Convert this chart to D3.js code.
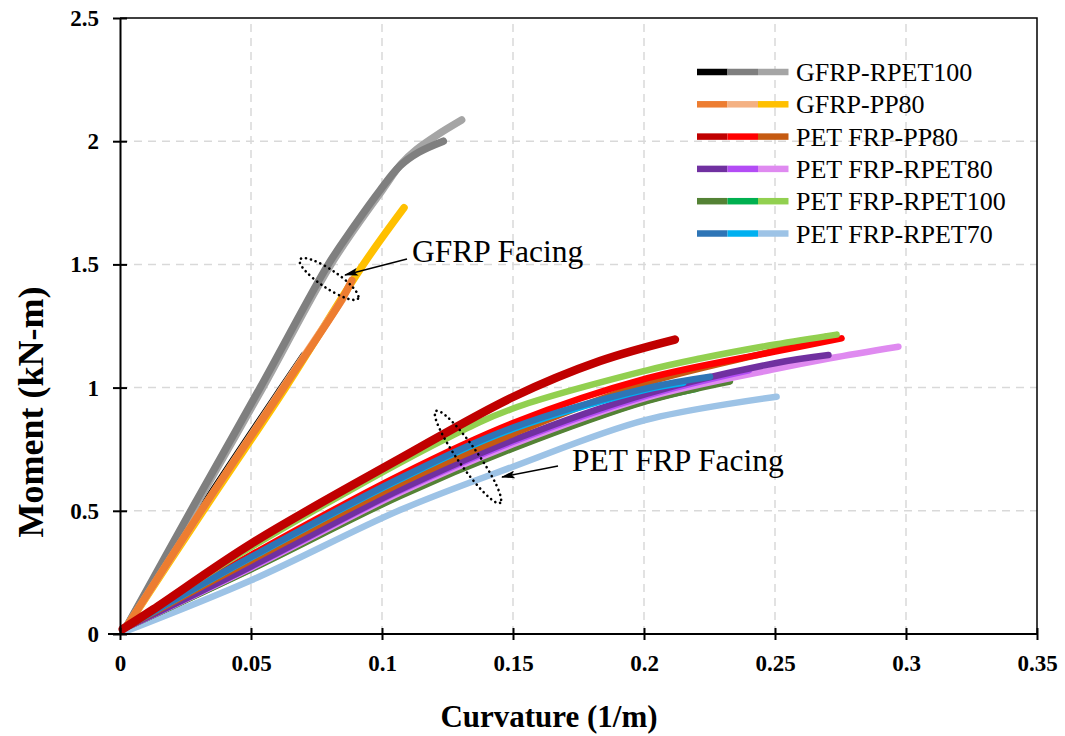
<!DOCTYPE html>
<html>
<head>
<meta charset="utf-8">
<script src="https://cdn.jsdelivr.net/npm/d3@7.9.0/dist/d3.min.js"></script>
<style>
  body { margin: 0; background: #fff; }
  svg { display: block; font-family: "Liberation Serif", "Times New Roman", serif; }
</style>
</head>
<body>
<svg id="chart" width="1065" height="736"></svg>
<script>
// ---- data (curvature 1/m, moment kN-m) ----
const groupNames = ['GFRP-RPET100', 'GFRP-PP80', 'PET FRP-PP80', 'PET FRP-RPET80', 'PET FRP-RPET100', 'PET FRP-RPET70'];
const groupColors = [
  ['#000000', '#7f7f7f', '#a5a5a5'],
  ['#ed7d31', '#f4b183', '#ffc000'],
  ['#c00000', '#ff0000', '#c55a11'],
  ['#7030a0', '#b34cf5', '#df8af0'],
  ['#548235', '#00b050', '#92d050'],
  ['#2e75b6', '#00b0f0', '#9dc3e6']
];
const xTicks = [0, 0.05, 0.1, 0.15, 0.2, 0.25, 0.3, 0.35];
const yTicks = [0, 0.5, 1, 1.5, 2, 2.5];

// GFRP-RPET100
const gfrpRpet100_1 = [[0.002, 0.02], [0.0306, 0.5], [0.0619, 1.0], [0.0702, 1.13]];
const gfrpRpet100_2 = [[0.002, 0.02], [0.027, 0.5], [0.0535, 1.0], [0.0795, 1.5], [0.089, 1.65], [0.0992, 1.80], [0.1069, 1.90], [0.114, 1.955], [0.1234, 2.0]];
const gfrpRpet100_3 = [[0.002, 0.02], [0.0278, 0.5], [0.0545, 1.0], [0.0805, 1.5], [0.100, 1.80], [0.1075, 1.91], [0.113, 1.965], [0.121, 2.025], [0.1304, 2.086]];
// GFRP-PP80
const gfrpPp80_1 = [[0.002, 0.02], [0.031, 0.5], [0.0625, 1.0], [0.0846, 1.356], [0.0885, 1.435]];
const gfrpPp80_2 = [[0.002, 0.02], [0.031, 0.5], [0.0622, 1.0], [0.085, 1.36]];
const gfrpPp80_3 = [[0.002, 0.02], [0.0318, 0.5], [0.0632, 1.0], [0.0929, 1.5], [0.1084, 1.73]];
// PET FRP-PP80
const petPp80_1 = [[0.001, 0.02], [0.0127, 0.1], [0.0503, 0.368], [0.1069, 0.712], [0.150, 0.962], [0.1832, 1.108], [0.2118, 1.195]];
const petPp80_2 = [[0.001, 0.02], [0.0503, 0.322], [0.1069, 0.645], [0.150, 0.856], [0.2013, 1.038], [0.25, 1.146], [0.2754, 1.200]];
const petPp80_3 = [[0.001, 0.02], [0.0503, 0.30], [0.1069, 0.611], [0.150, 0.812], [0.2013, 1.02], [0.25, 1.15], [0.2697, 1.207]];
// PET FRP-RPET80
const petRpet80_1 = [[0.001, 0.02], [0.0503, 0.276], [0.1069, 0.586], [0.150, 0.787], [0.2013, 0.976], [0.25, 1.099], [0.2704, 1.132]];
const petRpet80_2 = [[0.001, 0.02], [0.0503, 0.274], [0.1069, 0.582], [0.150, 0.78], [0.2013, 0.968], [0.24, 1.07]];
const petRpet80_3 = [[0.001, 0.02], [0.0503, 0.27], [0.1069, 0.574], [0.150, 0.77], [0.2013, 0.96], [0.25, 1.075], [0.271, 1.119], [0.2971, 1.166]];
// PET FRP-RPET100
const petRpet100_1 = [[0.001, 0.02], [0.0503, 0.264], [0.1069, 0.56], [0.150, 0.753], [0.2013, 0.946], [0.2328, 1.025]];
const petRpet100_2 = [[0.001, 0.02], [0.0503, 0.266], [0.1069, 0.563], [0.150, 0.756], [0.2, 0.944], [0.22, 0.995]];
const petRpet100_3 = [[0.001, 0.02], [0.05, 0.352], [0.1234, 0.787], [0.150, 0.915], [0.2004, 1.068], [0.2214, 1.118], [0.25, 1.175], [0.2735, 1.215]];
// PET FRP-RPET70
const petRpet70_1 = [[0.001, 0.02], [0.0503, 0.314], [0.1069, 0.632], [0.150, 0.838], [0.2013, 0.998], [0.2252, 1.044]];
const petRpet70_2 = [[0.001, 0.02], [0.0503, 0.312], [0.1069, 0.628], [0.150, 0.832], [0.2, 0.99], [0.215, 1.02]];
const petRpet70_3 = [[0.002, 0.01], [0.0503, 0.219], [0.1069, 0.503], [0.150, 0.679], [0.2004, 0.868], [0.2506, 0.963]];

const groups = [
  [gfrpRpet100_1, gfrpRpet100_2, gfrpRpet100_3],
  [gfrpPp80_1, gfrpPp80_2, gfrpPp80_3],
  [petPp80_1, petPp80_2, petPp80_3],
  [petRpet80_1, petRpet80_2, petRpet80_3],
  [petRpet100_1, petRpet100_2, petRpet100_3],
  [petRpet70_1, petRpet70_2, petRpet70_3]
];
// drawing order [group, specimen] so the overlaps look like the original
const drawOrder = [
  [0, 0], [0, 2], [0, 1], [1, 2], [1, 1], [1, 0],
  [5, 2], [4, 1], [4, 0], [3, 2], [3, 1], [3, 0], [2, 2], [2, 1], [5, 1], [5, 0], [4, 2], [2, 0]
];

// ---- layout ----
const svg = d3.select('#chart');
const x = d3.scaleLinear().domain([0, 0.35]).range([120, 1037]);
const y = d3.scaleLinear().domain([0, 2.5]).range([634, 18]);
const fmt = d => d === 0 ? '0' : String(+d.toFixed(2));

svg.append('rect').attr('width', 1065).attr('height', 736).attr('fill', '#fff');

// grid
const grid = svg.append('g').attr('stroke', '#d9d9d9').attr('stroke-width', 1.5).attr('stroke-dasharray', '8,6');
grid.selectAll('.gx').data(xTicks.slice(1, -1)).enter().append('line')
  .attr('x1', d => x(d)).attr('x2', d => x(d)).attr('y1', y(0)).attr('y2', y(2.5));
grid.selectAll('.gy').data(yTicks.slice(1, -1)).enter().append('line')
  .attr('y1', d => y(d)).attr('y2', d => y(d)).attr('x1', x(0)).attr('x2', x(0.35));

// frame (top / right)
svg.append('path')
  .attr('d', `M${x(0)},${y(2.5)}H${x(0.35)}V${y(0)}`)
  .attr('fill', 'none').attr('stroke', '#000').attr('stroke-width', 1.5);

// curves
const line = d3.line().x(d => x(d[0])).y(d => y(d[1])).curve(d3.curveCatmullRom.alpha(0.5));
const curves = svg.append('g').attr('fill', 'none').attr('stroke-linecap', 'round').attr('stroke-linejoin', 'round');
drawOrder.forEach(([g, s]) => {
  curves.append('path')
    .attr('d', line(groups[g][s]))
    .attr('stroke', groupColors[g][s])
    .attr('stroke-width', g < 2 ? 7.5 : (g === 2 && s === 0 ? 8.5 : 6.5));
});

// axes
const xAxis = svg.append('g').attr('transform', `translate(0,${y(0)})`)
  .call(d3.axisBottom(x).tickValues(xTicks).tickFormat(fmt).tickSizeOuter(0));
const yAxis = svg.append('g').attr('transform', `translate(${x(0)},0)`)
  .call(d3.axisLeft(y).tickValues(yTicks).tickFormat(fmt).tickSizeOuter(0));

[xAxis, yAxis].forEach(a => {
  a.attr('font-family', null);
  a.select('.domain').attr('stroke', '#000').attr('stroke-width', 2);
  a.selectAll('.tick line').attr('stroke', '#000').attr('stroke-width', 2);
  a.selectAll('.tick text').attr('fill', '#000')
    .style('font-family', '"Liberation Serif", serif').style('font-size', '23px').style('font-weight', 'bold');
});
xAxis.selectAll('.tick line').attr('y1', -6).attr('y2', 6);
xAxis.selectAll('.tick text').attr('y', 37).attr('dy', null);
yAxis.selectAll('.tick line').attr('x1', -7).attr('x2', 7);
yAxis.selectAll('.tick text').attr('x', -21).attr('dy', '0.33em');
xAxis.select('.domain').attr('d', `M${x(0) - 12},0H${x(0.35)}`);

// axis titles
svg.append('text').attr('x', 549).attr('y', 727).attr('text-anchor', 'middle')
  .style('font-size', '31px').style('font-weight', 'bold').text('Curvature (1/m)');
svg.append('text').attr('transform', 'translate(43,412) rotate(-90)').attr('text-anchor', 'middle')
  .style('font-size', '36px').style('font-weight', 'bold').text('Moment (kN-m)');

// legend
const legend = svg.append('g').attr('transform', 'translate(697,72)');
groupNames.forEach((name, i) => {
  const row = legend.append('g').attr('transform', `translate(0,${i * 32.3})`);
  groupColors[i].forEach((c, j) => {
    row.append('line').attr('x1', j * 30.5).attr('x2', (j + 1) * 30.5).attr('y1', 0).attr('y2', 0)
      .attr('stroke', c).attr('stroke-width', 6.5);
  });
  row.append('text').attr('x', 99).attr('y', 9).style('font-size', '26px').attr('fill', '#000').text(name);
});

// annotations
const defs = svg.append('defs');
defs.append('marker').attr('id', 'arrow').attr('viewBox', '0 0 14 8').attr('refX', 13).attr('refY', 4)
  .attr('markerWidth', 14).attr('markerHeight', 8).attr('markerUnits', 'userSpaceOnUse').attr('orient', 'auto')
  .append('path').attr('d', 'M0,0L14,4L0,8L3,4Z').attr('fill', '#000');

function facing(cx, cy, rx, ry, angle, x1, y1, x2, y2, tx, ty, size, label) {
  svg.append('ellipse').attr('cx', cx).attr('cy', cy).attr('rx', rx).attr('ry', ry)
    .attr('transform', `rotate(${angle},${cx},${cy})`)
    .attr('fill', 'none').attr('stroke', '#000').attr('stroke-width', 2.6)
    .attr('stroke-dasharray', '0.1,5').attr('stroke-linecap', 'round');
  svg.append('line').attr('x1', x1).attr('y1', y1).attr('x2', x2).attr('y2', y2)
    .attr('stroke', '#000').attr('stroke-width', 1.5).attr('marker-end', 'url(#arrow)');
  svg.append('text').attr('x', tx).attr('y', ty).style('font-size', size + 'px').attr('fill', '#000').text(label);
}
facing(329, 279, 35, 9, 34, 407, 259, 345, 275, 412, 262, 31.5, 'GFRP Facing');
facing(468, 457, 56, 10, 55, 558, 466, 502, 477, 572, 471, 31.5, 'PET FRP Facing');
</script>
</body>
</html>
